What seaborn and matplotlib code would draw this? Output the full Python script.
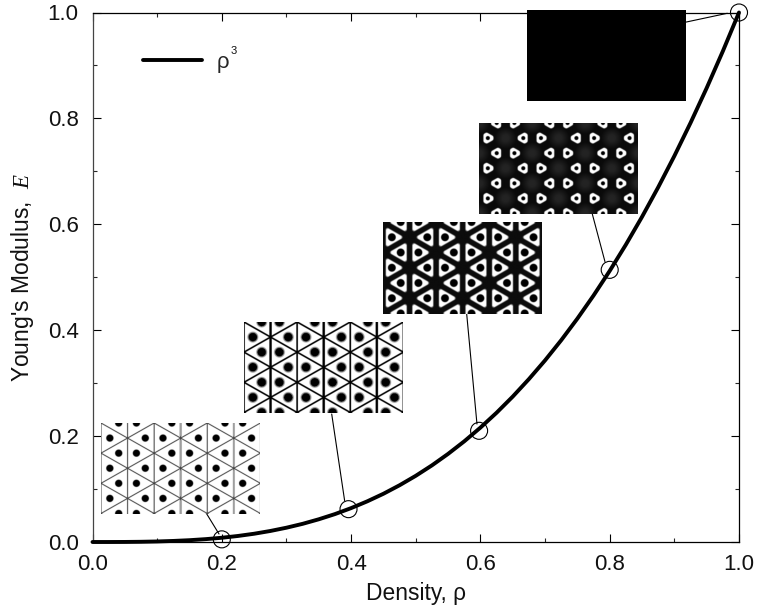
#!/usr/bin/env python3
import numpy as np
import pandas as pd
import matplotlib
matplotlib.use("Agg")
import matplotlib.pyplot as plt
import seaborn as sns

rho = [0.0, 0.025, 0.05, 0.075, 0.1, 0.125, 0.15, 0.175, 0.2, 0.225, 0.25, 0.275, 0.3, 0.325, 0.35, 0.375, 0.4,
       0.425, 0.45, 0.475, 0.5, 0.525, 0.55, 0.575, 0.6, 0.625, 0.65, 0.675, 0.7, 0.725, 0.75, 0.775, 0.8,
       0.825, 0.85, 0.875, 0.9, 0.925, 0.95, 0.975, 1.0]
young = [0.0, 0.0, 0.0001, 0.0004, 0.001, 0.002, 0.0034, 0.0054, 0.008, 0.0114, 0.0156, 0.0208, 0.027, 0.0343,
         0.0429, 0.0527, 0.064, 0.0768, 0.0911, 0.1072, 0.125, 0.1447, 0.1664, 0.1901, 0.216, 0.2441, 0.2746,
         0.3076, 0.343, 0.3811, 0.4219, 0.4655, 0.512, 0.5615, 0.6141, 0.6699, 0.729, 0.7915, 0.8574, 0.9269, 1.0]

sample_rho = [0.2, 0.396, 0.598, 0.8, 1.0]
sample_e = [0.005, 0.062, 0.21, 0.514, 1.0]

x_ticks = [0.0, 0.2, 0.4, 0.6, 0.8, 1.0]
minor_ticks = [0.1, 0.3, 0.5, 0.7, 0.9]

# inset boxes: left, right, bottom, top (data units)
inset_boxes = [
    (0.0131, 0.2575, 0.0538, 0.2247),
    (0.2343, 0.4787, 0.2427, 0.4136),
    (0.4493, 0.6937, 0.4306, 0.6025),
    (0.5978, 0.8433, 0.6194, 0.7907),
    (0.672, 0.9165, 0.8329, 1.0047),
]

# leader lines: inset edge -> circle edge
leader_x = [(0.1763, 0.1957), (0.37, 0.39), (0.5788, 0.5947), (0.7731, 0.7927), (0.9165, 0.9819)]
leader_y = [(0.0538, 0.0151), (0.2417, 0.078), (0.4306, 0.2228), (0.6194, 0.5294), (0.9815, 0.9985)]

CELL_W, CELL_H = 26.4, 15.08
IMG_W, IMG_H = 158, 91
SS = 3


def soft(v, edge, width=0.7):
    return np.clip((v - edge) / width + 0.5, 0, 1)


def lattice():
    # pixel grid and distances to walls, dot centres and nodes of the triangle lattice
    yy, xx = (np.mgrid[0:IMG_H * SS, 0:IMG_W * SS] + 0.5) / SS
    a = xx / CELL_W
    b = (yy / CELL_H + a) / 2
    c = (yy / CELL_H - a) / 2
    da = np.abs(a - np.round(a)) * CELL_W
    db = np.abs(b - np.round(b)) * CELL_W
    dc = np.abs(c - np.round(c)) * CELL_W
    wall = np.minimum(da, np.minimum(db, dc))

    dot = np.full(xx.shape, 1e9)
    node = np.full(xx.shape, 1e9)
    for k in range(-1, 8):
        for j in range(-1, 9):
            if (k + j) % 2 == 0:
                node = np.minimum(node, np.hypot(xx - k * CELL_W, yy - j * CELL_H))
            else:
                for side in (-1, 1):
                    r = np.hypot(xx - (k + side / 3) * CELL_W, yy - j * CELL_H)
                    dot = np.minimum(dot, r)
    cols = np.round(a).astype(int)
    return wall, da, dot, node, cols


def make_insets():
    wall, da, dot, node, cols = lattice()

    # 1: thin grey walls, small black dots
    img1 = 0.25 + 0.75 * soft(wall, 0.5, 0.3)
    thick = (cols % 2 == 1) & (cols != 1) & (da < 1.1) & (node > 2)
    img1 = np.where(thick, 0.62, img1)
    img1 = np.minimum(img1, soft(dot, 3.6, 0.8))

    # 2: dark walls, bigger dots with a grey halo
    img2 = soft(wall, 0.8, 0.4)
    img2 = np.minimum(img2, soft(da, 1.2 - 0.5 * (cols % 2 == 0), 0.4))
    halo = 0.5 + 0.5 * soft(dot, 5.3, 1.0)
    img2 = np.minimum(img2, np.where(dot < 4.2, 0.0, halo))

    # 3: white triangles inside black walls, black stars at the nodes
    img3 = soft(wall, 2.8, 1.2) * soft(node, 7.5, 2.0)
    img3 = 0.05 + 0.95 * img3
    img3 = np.minimum(img3, soft(dot, 3.9, 0.9))

    # 4: dark field, white blobs with a black centre
    blob = soft(dot, 5.6, 1.0)
    blob = 1 - (1 - blob) * soft(wall, 4.4, 1.0)
    img4 = 0.04 + 0.1 * (1 - soft(node, 7.0, 8.0))
    img4 = img4 * blob + (1 - blob)
    img4 = np.minimum(img4, soft(dot, 2.0, 0.8))

    # 5: fully solid
    img5 = np.zeros_like(img1)
    return [img1, img2, img3, img4, img5]


sns.set_theme(style="ticks")
plt.rcParams["font.family"] = ["Liberation Sans", "DejaVu Sans"]
plt.rcParams["mathtext.fontset"] = "custom"
plt.rcParams["mathtext.it"] = "Liberation Serif:italic"
plt.rcParams["mathtext.rm"] = "Liberation Sans"

fig = plt.figure(figsize=(7.57, 6.07), dpi=100, facecolor="white")
ax = fig.add_axes([92.5 / 757, (607 - 542) / 607, 646.5 / 757, 529.5 / 607])

curve = pd.DataFrame({"rho": rho, "young": young})
sns.lineplot(data=curve, x="rho", y="young", ax=ax, color="black", linewidth=2.8, label="ρ",
             clip_on=False, zorder=3, solid_capstyle="round", errorbar=None, sort=False)

samples = pd.DataFrame({"rho": sample_rho, "young": sample_e})
sns.scatterplot(data=samples, x="rho", y="young", ax=ax, marker="o", s=150, facecolor="none",
                edgecolor="black", linewidth=0.8, clip_on=False, zorder=4, legend=False)

for xs, ys in zip(leader_x, leader_y):
    ax.plot(xs, ys, color="black", linewidth=0.8, clip_on=False, zorder=4)

for box, img in zip(inset_boxes, make_insets()):
    ax.imshow(img, extent=(box[0], box[1], box[2], box[3]), origin="upper", cmap="gray", vmin=0, vmax=1,
              aspect="auto", interpolation="antialiased", zorder=5, clip_on=False)

ax.set_xlim(0, 1)
ax.set_ylim(0, 1)
ax.set_xticks(x_ticks)
ax.set_yticks(x_ticks)
ax.set_xticks(minor_ticks, minor=True)
ax.set_yticks(minor_ticks, minor=True)
ax.tick_params(which="major", direction="in", length=6, width=0.8, top=True, right=True,
               labelsize=16, color="black", labelcolor="#111111")
ax.tick_params(axis="x", which="major", pad=9)
ax.tick_params(axis="y", which="major", pad=10)
ax.tick_params(which="minor", direction="in", length=3, width=0.8, top=True, right=True)
for s in ax.spines.values():
    s.set_linewidth(0.9)
    s.set_color("black")
    s.set_visible(True)
ax.spines["left"].set_color("#444444")

ax.set_xlabel("Density, ρ", fontsize=16.4, labelpad=4.5, color="#111111")
ax.set_ylabel("Young's Modulus,  $\\mathit{E}$", fontsize=16.5, labelpad=8.3, color="#111111")

ax.legend(loc="upper left", bbox_to_anchor=(0.078, 0.9255), frameon=False, fontsize=16,
          handlelength=2.66, handletextpad=0.65, borderaxespad=0, borderpad=0)
ax.text(0.2136, 0.9216, "3", fontsize=8, color="#111111", ha="left", va="baseline")

fig.savefig("out.png", dpi=100, facecolor="white")
plt.close(fig)
